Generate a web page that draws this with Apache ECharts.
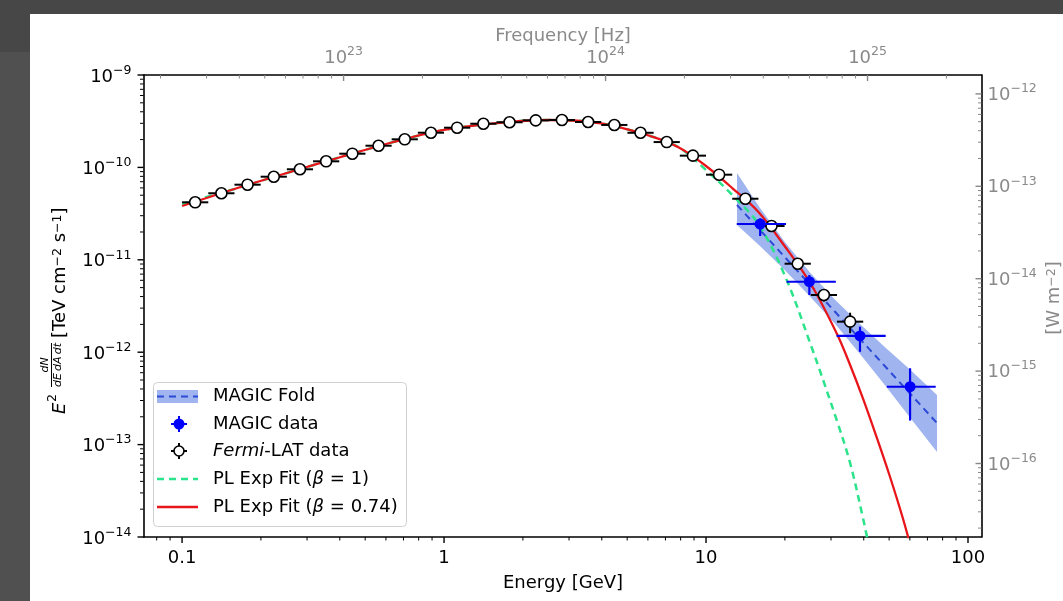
<!DOCTYPE html>
<html><head><meta charset="utf-8">
<script src="https://cdn.jsdelivr.net/npm/echarts@6/dist/echarts.min.js"></script>
<style>
html,body{margin:0;padding:0;width:1063px;height:601px;overflow:hidden;background:#474747;}
#strip{position:absolute;left:0;top:52px;width:30px;height:549px;background:#505050;}
#panel{position:absolute;left:30px;top:14px;width:1033px;height:587px;background:#fff;}
#chart{position:absolute;left:0;top:0;width:1063px;height:601px;}
</style></head><body>
<div id="strip"></div><div id="panel"></div><div id="chart"></div>
<script>
// ---------------- data ----------------
const GEV_TO_HZ = 2.417989e23;          // E = h nu
const TEVCM2_TO_WM2 = 1.602177e-3;      // TeV cm^-2 s^-1 -> W m^-2
const energyRange = [0.07125, 112.6];   // GeV
const fluxRange = [1e-14, 1e-9];        // TeV cm^-2 s^-1

// Fermi-LAT points
const fermiE = [0.1122,0.1413,0.1778,0.2239,0.2818,0.3548,0.4467,0.5623,0.7079,0.8913,1.122,1.413,1.778,2.239,2.818,3.548,4.467,5.623,7.079,8.913,11.22,14.13,17.78,22.39,28.18,35.48];
const fermiBinEdges = [0.1,0.1259,0.1585,0.1995,0.2512,0.3162,0.3981,0.5012,0.631,0.7943,1,1.259,1.585,1.995,2.512,3.162,3.981,5.012,6.31,7.943,10,12.59,15.85,19.95,25.12,31.62,39.81];
const fermiFlux = [4.19e-11,5.25e-11,6.50e-11,7.93e-11,9.54e-11,1.164e-10,1.407e-10,1.717e-10,2.014e-10,2.374e-10,2.69e-10,2.97e-10,3.08e-10,3.23e-10,3.26e-10,3.10e-10,2.88e-10,2.37e-10,1.88e-10,1.34e-10,8.34e-11,4.58e-11,2.32e-11,9.07e-12,4.16e-12,2.14e-12];
const fermiRelErr = [0.03,0.03,0.03,0.03,0.03,0.03,0.03,0.03,0.03,0.03,0.03,0.03,0.03,0.03,0.03,0.03,0.03,0.03,0.03,0.04,0.05,0.06,0.08,0.12,0.15,0.25];

// MAGIC points
const magicE = [16.1,24.8,38.7,60.1];
const magicELo = [13.1,20.3,31.5,49.0];
const magicEHi = [20.2,31.3,48.5,75.3];
const magicFlux = [2.44e-11,5.79e-12,1.50e-12,4.23e-13];
const magicFluxLo = [1.81e-11,4.16e-12,1.01e-12,1.82e-13];
const magicFluxHi = [2.81e-11,6.84e-12,1.89e-12,6.70e-13];

// MAGIC fold (butterfly)
const foldE = [13.13,16.07,20.02,24.94,31.08,38.71,48.22,60.05,76.15];
const foldFlux = [3.92e-11,2.10e-11,1.064e-11,5.39e-12,2.74e-12,1.389e-12,7.04e-13,3.57e-13,1.71e-13];
const foldLo = [2.38e-11,1.41e-11,7.70e-12,4.00e-12,2.03e-12,9.56e-13,4.38e-13,1.965e-13,8.32e-14];
const foldHi = [8.70e-11,3.64e-11,1.55e-11,7.27e-12,3.69e-12,2.02e-12,1.13e-12,6.50e-13,3.44e-13];

// PL exp cutoff fits
const fitB1E = [0.1,0.1585,0.2512,0.3981,0.631,1,1.585,2.512,3.981,6.31,7.943,10,12.59,15.85,19.95,25.12,31.62,35.48,39.81,42.66];
const fitB1Flux = [4.02e-11,5.84e-11,8.70e-11,1.28e-10,1.86e-10,2.54e-10,3.02e-10,3.26e-10,2.99e-10,2.13e-10,1.62e-10,9.37e-11,5.03e-11,2.44e-11,6.85e-12,1.197e-12,1.80e-13,6.32e-14,1.566e-14,6.07e-15];
const fitB074E = [0.1,0.1585,0.2512,0.3981,0.631,1,1.585,2.512,3.981,6.31,7.943,10,12.59,15.85,19.95,25.12,31.62,35.48,39.81,45.0,50.12,56.23,61.66];
const fitB074Flux = [3.82e-11,5.84e-11,8.70e-11,1.28e-10,1.86e-10,2.54e-10,3.02e-10,3.26e-10,2.99e-10,2.13e-10,1.62e-10,1.036e-10,5.98e-11,3.29e-11,1.41e-11,5.47e-12,1.574e-12,7.27e-13,3.11e-13,1.16e-13,4.69e-14,1.646e-14,6.38e-15];

// tick values
const energyMinorTicks = [0.08,0.09,0.2,0.3,0.4,0.5,0.6,0.7,0.8,0.9,2,3,4,5,6,7,8,9,20,30,40,50,60,70,80,90];
const energyMajorTicks = [0.1,1,10,100];
const fluxMajorTicks = [1e-14,1e-13,1e-12,1e-11,1e-10,1e-9];
const fluxMinorTicks = [2e-14,3e-14,4e-14,5e-14,6e-14,7e-14,8e-14,9e-14,2e-13,3e-13,4e-13,5e-13,6e-13,7e-13,8e-13,9e-13,2e-12,3e-12,4e-12,5e-12,6e-12,7e-12,8e-12,9e-12,2e-11,3e-11,4e-11,5e-11,6e-11,7e-11,8e-11,9e-11,2e-10,3e-10,4e-10,5e-10,6e-10,7e-10,8e-10,9e-10];
const freqMajorTicks = [1e23,1e24,1e25];
const freqMinorTicks = [2e22,3e22,4e22,5e22,6e22,7e22,8e22,9e22,2e23,3e23,4e23,5e23,6e23,7e23,8e23,9e23,2e24,3e24,4e24,5e24,6e24,7e24,8e24,9e24,2e25];
const wMajorTicks = [1e-16,1e-15,1e-14,1e-13,1e-12];
const wMinorTicks = [2e-17,3e-17,4e-17,5e-17,6e-17,7e-17,8e-17,9e-17,2e-16,3e-16,4e-16,5e-16,6e-16,7e-16,8e-16,9e-16,2e-15,3e-15,4e-15,5e-15,6e-15,7e-15,8e-15,9e-15,2e-14,3e-14,4e-14,5e-14,6e-14,7e-14,8e-14,9e-14,2e-13,3e-13,4e-13,5e-13,6e-13,7e-13,8e-13,9e-13];

// ---------------- chart ----------------
const F = 'DejaVu Sans';
const GRAY = '#8a8a8a';
const chart = echarts.init(document.getElementById('chart'), null, {renderer:'canvas'});
const freqRange = [energyRange[0]*GEV_TO_HZ, energyRange[1]*GEV_TO_HZ];
const wRange = [fluxRange[0]*TEVCM2_TO_WM2, fluxRange[1]*TEVCM2_TO_WM2];

function powLabel(v){
  const l = Math.log10(v), e = Math.round(l);
  if (Math.abs(l-e) > 1e-6) return '';
  return '{b|10}{s|' + (e<0?'\u2212':'') + Math.abs(e) + '}';
}
function plainLabel(v){
  const l = Math.log10(v), e = Math.round(l);
  if (Math.abs(l-e) > 1e-6) return '';
  return e < 0 ? (Math.pow(10,e)).toFixed(-e) : String(Math.pow(10,e));
}
function richFor(color){
  return {
    b:{fontSize:18, fontFamily:F, color:color, lineHeight:26},
    s:{fontSize:12.5, fontFamily:F, color:color, lineHeight:12, verticalAlign:'top'}
  };
}

function tickSeries(xIdx, yIdx, values, side, len, color, width){
  const data = values.map(v => {
    if (side==='bottom') return [v, fluxRange[0]];
    if (side==='top') return [v, fluxRange[1]];
    if (side==='left') return [energyRange[0], v];
    return [energyRange[1], v];
  });
  return {
    type:'custom', xAxisIndex:xIdx, yAxisIndex:yIdx, clip:false, silent:true, z:20,
    data:data, encode:{x:0,y:1},
    renderItem:(params, api) => {
      const p = api.coord([api.value(0), api.value(1)]);
      let s;
      if (side==='bottom') s = {x1:p[0],y1:p[1],x2:p[0],y2:p[1]+len};
      else if (side==='top') s = {x1:p[0],y1:p[1],x2:p[0],y2:p[1]+len};
      else if (side==='left') s = {x1:p[0],y1:p[1],x2:p[0]-len,y2:p[1]};
      else s = {x1:p[0],y1:p[1],x2:p[0]-len,y2:p[1]};
      return {type:'line', shape:s, style:{stroke:color, lineWidth:width}};
    }
  };
}

function errSeries(rows, color, width, z){
  return {
    type:'custom', xAxisIndex:0, yAxisIndex:0, z:z, silent:true,
    data:rows, encode:{x:0,y:1},
    renderItem:(params, api) => {
      const c = api.coord([api.value(0), api.value(1)]);
      const l = api.coord([api.value(2), api.value(1)]);
      const r = api.coord([api.value(3), api.value(1)]);
      const lo = api.coord([api.value(0), api.value(4)]);
      const hi = api.coord([api.value(0), api.value(5)]);
      return {type:'group', children:[
        {type:'line', shape:{x1:l[0],y1:c[1],x2:r[0],y2:c[1]}, style:{stroke:color,lineWidth:width}},
        {type:'line', shape:{x1:c[0],y1:lo[1],x2:c[0],y2:hi[1]}, style:{stroke:color,lineWidth:width}}
      ]};
    }
  };
}

const fermiRows = fermiE.map((e,i)=>[e, fermiFlux[i], fermiBinEdges[i], fermiBinEdges[i+1], fermiFlux[i]*(1-fermiRelErr[i]), fermiFlux[i]*(1+fermiRelErr[i])]);
const magicRows = magicE.map((e,i)=>[e, magicFlux[i], magicELo[i], magicEHi[i], magicFluxLo[i], magicFluxHi[i]]);

const option = {
  backgroundColor:'transparent',
  animation:false,
  grid:{left:143.5, top:75, right:81.5, bottom:64, containLabel:false},
  xAxis:[
    {type:'log', logBase:10, min:energyRange[0], max:energyRange[1], position:'bottom',
     axisLine:{show:true, lineStyle:{color:'#000', width:1.6}}, axisTick:{show:false}, splitLine:{show:false},
     axisLabel:{formatter:plainLabel, fontSize:18, fontFamily:F, color:'#000', margin:12}},
    {type:'log', logBase:10, min:freqRange[0], max:freqRange[1], position:'top',
     axisLine:{show:true, lineStyle:{color:'#000', width:1.6}}, axisTick:{show:false}, splitLine:{show:false},
     axisLabel:{formatter:powLabel, rich:richFor(GRAY), color:GRAY, margin:4}}
  ],
  yAxis:[
    {type:'log', logBase:10, min:fluxRange[0], max:fluxRange[1], position:'left',
     axisLine:{show:true, lineStyle:{color:'#000', width:1.6}}, axisTick:{show:false}, splitLine:{show:false},
     axisLabel:{formatter:powLabel, rich:richFor('#000'), margin:12, padding:[4,0,0,0]}},
    {type:'log', logBase:10, min:wRange[0], max:wRange[1], position:'right',
     axisLine:{show:true, lineStyle:{color:'#000', width:1.6}}, axisTick:{show:false}, splitLine:{show:false},
     axisLabel:{formatter:powLabel, rich:richFor(GRAY), margin:6, padding:[3,0,0,0]}}
  ],
  series:[
    {type:'custom', name:'MAGIC Fold band', xAxisIndex:0, yAxisIndex:0, z:1, silent:true,
     data:foldE.map((e,i)=>[e, foldFlux[i], foldLo[i], foldHi[i]]), encode:{x:0,y:1},
     renderItem:(params, api) => {
       if (params.dataIndex !== 0) return null;
       const pts = [];
       for (let i=0;i<foldE.length;i++) pts.push(api.coord([foldE[i], foldHi[i]]));
       for (let i=foldE.length-1;i>=0;i--) pts.push(api.coord([foldE[i], foldLo[i]]));
       return {type:'polygon', shape:{points:pts}, style:{fill:'rgba(65,105,225,0.5)'}};
     }},
    {type:'line', name:'MAGIC Fold', z:2, showSymbol:false, silent:true,
     data:foldE.map((e,i)=>[e, foldFlux[i]]),
     lineStyle:{color:'#2c4ad6', width:2, type:[7,5]}},
    {type:'line', name:'PL Exp Fit b1', z:3, showSymbol:false, silent:true, smooth:0.35,
     data:fitB1E.map((e,i)=>[e, fitB1Flux[i]]),
     lineStyle:{color:'#2be38a', width:2.5, type:[7,5]}},
    {type:'line', name:'PL Exp Fit b074', z:3, showSymbol:false, silent:true, smooth:0.35,
     data:fitB074E.map((e,i)=>[e, fitB074Flux[i]]),
     lineStyle:{color:'#e8161b', width:2.3}},
    errSeries(fermiRows, '#000', 2, 4),
    {type:'scatter', name:'Fermi-LAT data', z:5, silent:true, symbol:'circle', symbolSize:11,
     data:fermiE.map((e,i)=>[e, fermiFlux[i]]),
     itemStyle:{color:'#ffffff', borderColor:'#000', borderWidth:1.6, opacity:1}},
    errSeries(magicRows, '#0000ee', 2.2, 6),
    {type:'scatter', name:'MAGIC data', z:7, silent:true, symbol:'circle', symbolSize:11,
     data:magicE.map((e,i)=>[e, magicFlux[i]]),
     itemStyle:{color:'#0000ff', opacity:1}},
    tickSeries(0,0,energyMajorTicks,'bottom',6,'#000',1.4),
    tickSeries(0,0,energyMinorTicks,'bottom',3.5,'#000',1),
    tickSeries(0,0,fluxMajorTicks,'left',6,'#000',1.4),
    tickSeries(0,0,fluxMinorTicks,'left',3.5,'#000',1),
    tickSeries(1,0,freqMajorTicks,'top',6,'#888',1.4),
    tickSeries(1,0,freqMinorTicks,'top',3.5,'#888',1),
    tickSeries(0,1,wMajorTicks,'right',6,'#888',1.4),
    tickSeries(0,1,wMinorTicks,'right',3.5,'#888',1)
  ],
  graphic:[
    // axis titles
    {type:'text', x:563, y:583, style:{text:'Energy [GeV]', fontSize:18, fontFamily:F, fill:'#000', align:'center', verticalAlign:'middle'}},
    {type:'text', x:563, y:36, style:{text:'Frequency [Hz]', fontSize:18, fontFamily:F, fill:GRAY, align:'center', verticalAlign:'middle'}},
    {type:'text', x:1054, y:298, rotation:Math.PI/2, style:{text:'[W m{s|\u22122}]', fontSize:18, fontFamily:F, fill:GRAY, align:'center', verticalAlign:'middle',
      rich:{s:{fontSize:12.5, fontFamily:F, fill:GRAY, verticalAlign:'top', lineHeight:12}}}},
    {type:'group', x:58, y:301, rotation:Math.PI/2, children:[
      {type:'text', x:-113, y:2, style:{text:'E', fontSize:18, fontStyle:'italic', fontFamily:F, fill:'#000', align:'left', verticalAlign:'middle'}},
      {type:'text', x:-101, y:-5, style:{text:'2', fontSize:12.5, fontFamily:F, fill:'#000', align:'left', verticalAlign:'middle'}},
      {type:'text', x:-64, y:-13, style:{text:'dN', fontSize:11, fontStyle:'italic', fontFamily:F, fill:'#000', align:'center', verticalAlign:'middle'}},
      {type:'line', shape:{x1:-86, y1:-6.5, x2:-42, y2:-6.5}, style:{stroke:'#000', lineWidth:1}},
      {type:'text', x:-64, y:0, style:{text:'dE\u2009dA\u2009dt', fontSize:11, fontStyle:'italic', fontFamily:F, fill:'#000', align:'center', verticalAlign:'middle'}},
      {type:'text', x:-37, y:2, style:{text:'[TeV cm{s|\u22122} s{s|\u22121}]', fontSize:18, fontFamily:F, fill:'#000', align:'left', verticalAlign:'middle',
        rich:{s:{fontSize:12.5, fontFamily:F, fill:'#000', verticalAlign:'top', lineHeight:12}}}}
    ]},
    // legend
    {type:'rect', z:100, shape:{x:153.5, y:382.5, width:253, height:144, r:4}, style:{fill:'rgba(255,255,255,0.85)', stroke:'#d0d0d0', lineWidth:1}},
    {type:'rect', z:101, shape:{x:157, y:390, width:41, height:13}, style:{fill:'rgba(65,105,225,0.5)'}},
    {type:'line', z:102, shape:{x1:157, y1:396.5, x2:198, y2:396.5}, style:{stroke:'#2c4ad6', lineWidth:2, lineDash:[7,5]}},
    {type:'text', z:102, x:213, y:396, style:{text:'MAGIC Fold', fontSize:18, fontFamily:F, fill:'#000', verticalAlign:'middle'}},
    {type:'line', z:102, shape:{x1:171, y1:424, x2:187, y2:424}, style:{stroke:'#0000ee', lineWidth:2}},
    {type:'line', z:102, shape:{x1:179, y1:416, x2:179, y2:432}, style:{stroke:'#0000ee', lineWidth:2}},
    {type:'circle', z:103, shape:{cx:179, cy:424, r:5.5}, style:{fill:'#0000ff'}},
    {type:'text', z:102, x:213, y:424, style:{text:'MAGIC data', fontSize:18, fontFamily:F, fill:'#000', verticalAlign:'middle'}},
    {type:'line', z:102, shape:{x1:171, y1:451, x2:187, y2:451}, style:{stroke:'#000', lineWidth:2}},
    {type:'line', z:102, shape:{x1:179, y1:443, x2:179, y2:459}, style:{stroke:'#000', lineWidth:2}},
    {type:'circle', z:103, shape:{cx:179, cy:451, r:5}, style:{fill:'#fff', stroke:'#000', lineWidth:1.6}},
    {type:'text', z:102, x:213, y:451, style:{text:'{i|Fermi}-LAT data', fontSize:18, fontFamily:F, fill:'#000', verticalAlign:'middle',
      rich:{i:{fontStyle:'italic', fontSize:18, fontFamily:F, fill:'#000'}}}},
    {type:'line', z:102, shape:{x1:157, y1:479, x2:198, y2:479}, style:{stroke:'#2be38a', lineWidth:2.5, lineDash:[7,5]}},
    {type:'text', z:102, x:213, y:479, style:{text:'PL Exp Fit ({i|\u03b2} = 1)', fontSize:18, fontFamily:F, fill:'#000', verticalAlign:'middle',
      rich:{i:{fontStyle:'italic', fontSize:18, fontFamily:F, fill:'#000'}}}},
    {type:'line', z:102, shape:{x1:157, y1:507, x2:198, y2:507}, style:{stroke:'#e8161b', lineWidth:2.3}},
    {type:'text', z:102, x:213, y:507, style:{text:'PL Exp Fit ({i|\u03b2} = 0.74)', fontSize:18, fontFamily:F, fill:'#000', verticalAlign:'middle',
      rich:{i:{fontStyle:'italic', fontSize:18, fontFamily:F, fill:'#000'}}}}
  ]
};
chart.setOption(option);
</script>
</body></html>
